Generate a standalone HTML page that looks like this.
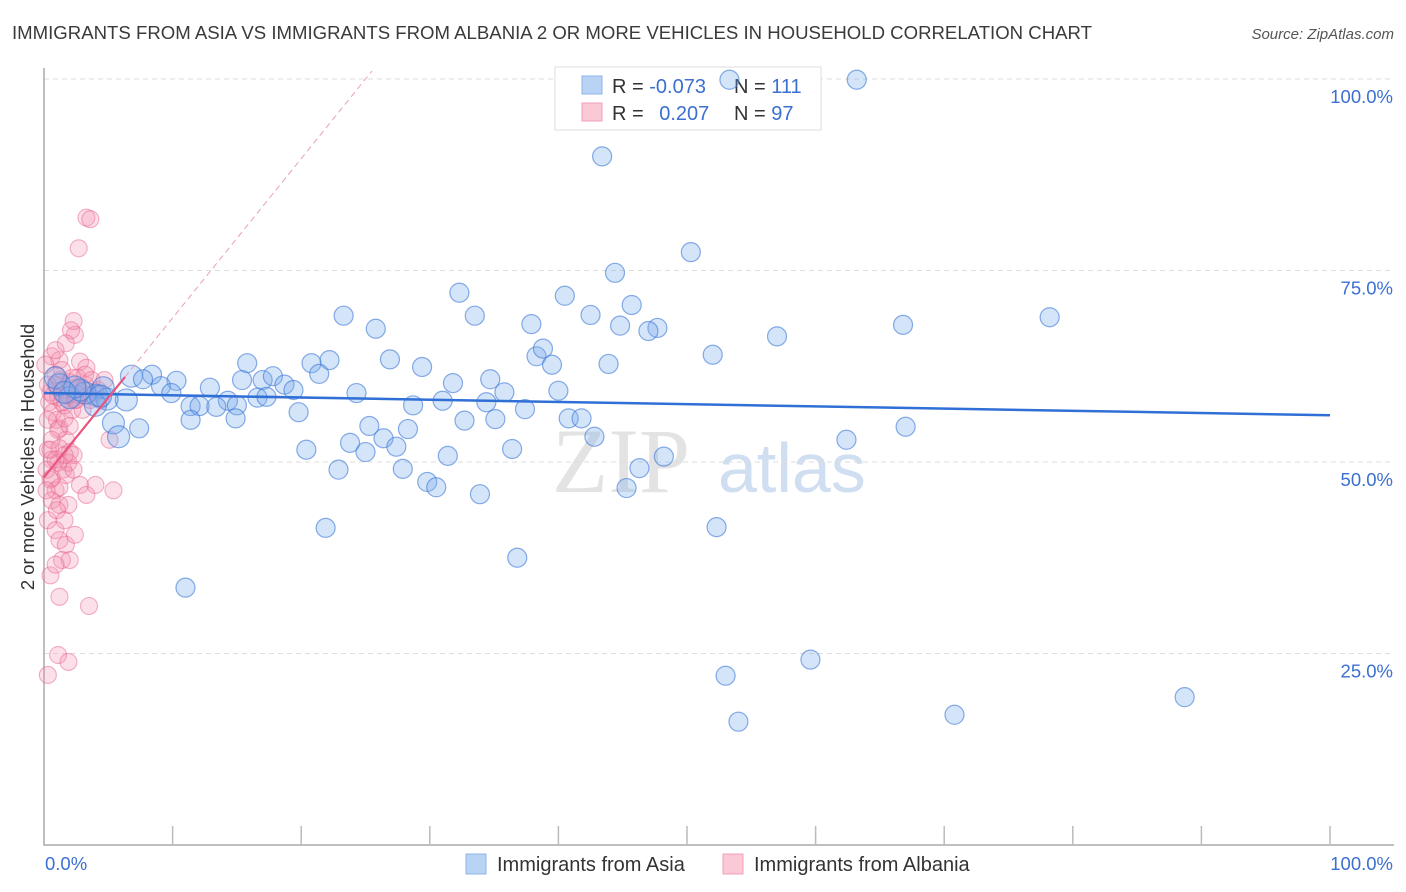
<!DOCTYPE html>
<html><head><meta charset="utf-8"><style>
body{margin:0;background:#fff;font-family:"Liberation Sans",sans-serif;}
svg{display:block}
</style></head><body>
<svg id="chart" width="1406" height="892">
<text x="12" y="39" font-size="18.6" fill="#3a3a3a">IMMIGRANTS FROM ASIA VS IMMIGRANTS FROM ALBANIA 2 OR MORE VEHICLES IN HOUSEHOLD CORRELATION CHART</text>
<text x="1394" y="39" font-size="15" fill="#555" font-style="italic" text-anchor="end">Source: ZipAtlas.com</text>
<text x="34" y="457" font-size="18.5" fill="#333" text-anchor="middle" transform="rotate(-90 34 457)">2 or more Vehicles in Household</text>
<g><text x="552" y="492" font-size="92" fill="#ddd" font-family="Liberation Serif,serif" opacity="0.8">ZIP</text><text x="718" y="492" font-size="70" fill="#c5d6ee" opacity="0.8">atlas</text></g>
<g id="grid"></g><g id="axes"></g>
<g>
<rect x="555" y="67" width="266" height="63" fill="#fff" stroke="#ddd"/>
<rect x="582" y="76" width="20" height="18" fill="#b9d3f5" stroke="#8fb3e8"/>
<rect x="582" y="103" width="20" height="18" fill="#fbc8d6" stroke="#f0a0b8"/>
<text x="612" y="93" font-size="20" fill="#333">R = <tspan fill="#3b6fd1">-0.073</tspan></text>
<text x="734" y="93" font-size="20" fill="#333">N = <tspan fill="#3b6fd1">111</tspan></text>
<text x="612" y="120" font-size="20" fill="#333">R = <tspan fill="#3b6fd1" dx="10">0.207</tspan></text>
<text x="734" y="120" font-size="20" fill="#333">N = <tspan fill="#3b6fd1">97</tspan></text>
</g>
<g id="pink"></g><g id="blue"></g><g id="trend"></g>
<g>
<rect x="466" y="854" width="20" height="20" fill="#b9d3f5" stroke="#8fb3e8"/>
<text x="497" y="871" font-size="20" fill="#333">Immigrants from Asia</text>
<rect x="723" y="854" width="20" height="20" fill="#fbc8d6" stroke="#f0a0b8"/>
<text x="754" y="871" font-size="20" fill="#333">Immigrants from Albania</text>
</g>
</svg>
<script>
const yTicks=[25,50,75,100];
const yTickLabels=["25.0%","50.0%","75.0%","100.0%"];
const xTicks=[0,10,20,30,40,50,60,70,80,90,100];
const blueTrend=[59.0,-0.029]; // intercept, slope
const pinkTrend=[48.0,2.08];
const pinkSolidEnd=6.3, pinkDashEnd=25.5;
const bluePts=[[730,80],[857,80],[602,156],[691,252],[615,273],[460,293],[565,296],[632,305],[591,315],[475,316],[344,316],[531,324],[376,329],[620,326],[657,328],[649,331],[903,325],[1050,317],[777,336],[713,355],[537,356],[543,349],[609,364],[552,365],[390,359],[247,363],[329,360],[312,363],[422,367],[319,374],[490,379],[453,383],[131,376],[152,375],[177,381],[143,379],[161,386],[210,388],[242,380],[262,380],[273,376],[285,385],[293,390],[356,393],[558,391],[505,392],[171,393],[228,401],[258,398],[266,397],[413,405],[443,401],[487,402],[525,409],[569,418],[581,418],[190,406],[200,406],[216,407],[237,405],[298,412],[496,419],[465,421],[236,418],[190,420],[369,426],[408,429],[383,438],[350,443],[397,447],[365,452],[306,450],[512,449],[594,437],[906,427],[846,440],[664,457],[639,468],[448,456],[338,470],[403,469],[427,482],[436,487],[480,494],[626,488],[325,528],[717,527],[517,558],[185,588],[811,660],[725,676],[738,722],[954,715],[1185,697],[126,400],[114,423],[119,437],[139,428],[97,395],[103,388],[85,393],[60,385],[70,398],[107,399],[80,390],[55,378],[95,405],[75,387],[65,392],[100,396]];
const pinkPts=[[52,356],[59,360],[75,335],[73,321],[71,330],[86,218],[90,219],[79,248],[60,380],[55,385],[65,390],[70,382],[50,392],[58,398],[64,405],[72,410],[80,395],[85,385],[62,370],[55,375],[49,402],[53,412],[57,420],[60,428],[66,440],[70,452],[48,450],[52,460],[58,463],[63,470],[68,463],[74,455],[80,362],[86,368],[77,378],[92,380],[98,390],[104,380],[110,440],[50,480],[55,490],[60,487],[66,475],[52,500],[60,505],[69,505],[80,485],[86,495],[95,485],[113,490],[48,520],[55,530],[60,540],[66,545],[75,535],[62,560],[70,560],[50,575],[55,565],[60,597],[89,606],[58,655],[68,662],[48,675],[48,420],[52,440],[58,430],[65,418],[70,426],[75,400],[82,410],[90,400],[47,470],[52,478],[60,448],[65,455],[74,470],[78,388],[88,395],[56,350],[66,343],[45,365],[48,385],[53,395],[62,402],[68,395],[72,378],[85,375],[76,400],[95,392],[100,400],[50,450],[56,460],[47,490],[57,510],[64,520]];
// convert picture-read pixel estimates into data values (%)
const blueX=bluePts.map(p=>+((p[0]-44)/12.86).toFixed(1)), blueY=bluePts.map(p=>+((845-p[1])/7.66).toFixed(1));
const pinkX=pinkPts.map(p=>+((p[0]-44)/12.86).toFixed(1)), pinkY=pinkPts.map(p=>+((845-p[1])/7.66).toFixed(1));
const X=v=>44+v*12.86, Y=v=>845-v*7.66;
const NS="http://www.w3.org/2000/svg";
function mk(parent,tag,attrs){const e=document.createElementNS(NS,tag);for(const k in attrs)e.setAttribute(k,attrs[k]);document.getElementById(parent).appendChild(e);return e;}
yTicks.forEach((t,i)=>{
 const l=mk('grid','line',{x1:44,x2:1394,y1:Y(t),y2:Y(t),stroke:'#ddd','stroke-dasharray':'5,4'});
 
 
 const tx=mk('grid','text',{x:1393,y:Y(t)+24,'font-size':18.5,fill:'#3b6fd1','text-anchor':'end'});tx.textContent=yTickLabels[i];
 
 
});
const ax=mk('axes','path',{d:'M44 68V845H1394',fill:'none',stroke:'#aaa','stroke-width':1.5});


xTicks.forEach(t=>{if(t===0)return;const l=mk('axes','line',{x1:X(t),x2:X(t),y1:826,y2:845,stroke:'#bbb','stroke-width':1.5});
 
 });
let t0=mk('axes','text',{x:45,y:870,'font-size':18.5,fill:'#3b6fd1'});t0.textContent='0.0%';


let t1=mk('axes','text',{x:1393,y:870,'font-size':18.5,fill:'#3b6fd1','text-anchor':'end'});t1.textContent='100.0%';


pinkX.forEach((x,i)=>{const c=mk('pink','circle',{cx:X(x),cy:Y(pinkY[i]),r:8.5,fill:'rgba(244,143,177,0.28)',stroke:'rgba(232,100,140,0.5)','stroke-width':1.1});
 
 });
blueX.forEach((x,i)=>{const r=x<7?11:9.5;const c=mk('blue','circle',{cx:X(x),cy:Y(blueY[i]),r:r,fill:'rgba(120,170,235,0.32)',stroke:'rgba(60,120,215,0.6)','stroke-width':1.2});
 
 });
let bl=mk('trend','line',{x1:X(0),y1:Y(blueTrend[0]),x2:X(100),y2:Y(blueTrend[0]+blueTrend[1]*100),stroke:'#2f6fd6','stroke-width':2.5});


let pl=mk('trend','line',{x1:X(0),y1:Y(pinkTrend[0]),x2:X(pinkSolidEnd),y2:Y(pinkTrend[0]+pinkTrend[1]*pinkSolidEnd),stroke:'#e8557f','stroke-width':2.2});


let pd=mk('trend','line',{x1:X(pinkSolidEnd),y1:Y(pinkTrend[0]+pinkTrend[1]*pinkSolidEnd),x2:X(pinkDashEnd),y2:Y(pinkTrend[0]+pinkTrend[1]*pinkDashEnd),stroke:'#e8a0b4','stroke-width':1,'stroke-dasharray':'6,4'});


</script>
</body></html>
